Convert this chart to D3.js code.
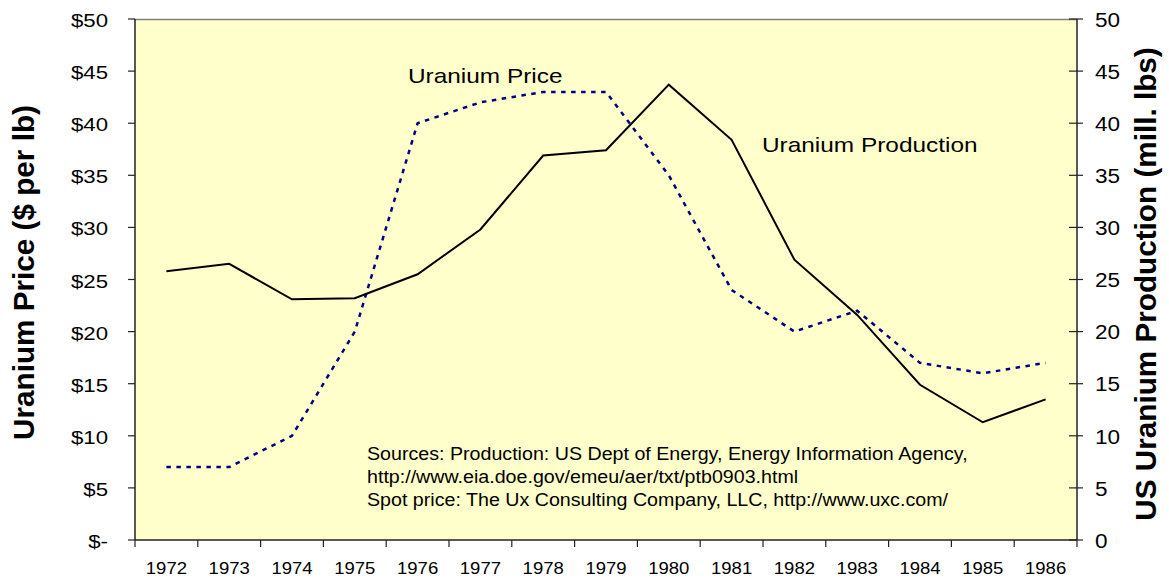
<!DOCTYPE html>
<html><head><meta charset="utf-8">
<script src="https://cdn.jsdelivr.net/npm/d3@7"></script>
<style>body{margin:0;background:#fff}svg{display:block}text{font-family:Arial,"Liberation Sans",sans-serif;fill:#000}</style>
</head><body>
<svg id="c" width="1169" height="579"></svg>
<script>
const years = ["1972","1973","1974","1975","1976","1977","1978","1979","1980","1981","1982","1983","1984","1985","1986"];
const production = [25.8,26.5,23.1,23.2,25.5,29.8,36.9,37.4,43.7,38.4,26.9,21.6,14.9,11.3,13.5];
const price = [7,7,10,20,40,42,43,43,35,24,20,22,17,16,17];
const leftTicks = [0,5,10,15,20,25,30,35,40,45,50];
const rightTicks = [0,5,10,15,20,25,30,35,40,45,50];
const sourceLines = ["Sources: Production: US Dept of Energy, Energy Information Agency,","http://www.eia.doe.gov/emeu/aer/txt/ptb0903.html","Spot price: The Ux Consulting Company, LLC, http://www.uxc.com/"];

const L=135,R=1077,T=19,B=540;
const svg=d3.select("#c");
const x=d3.scaleBand().domain(years).range([L,R]);
const yL=d3.scaleLinear().domain([0,50]).range([B,T]);
const yR=d3.scaleLinear().domain([0,50]).range([B,T]);

function htext(px,py,str,size,sx,anchor){
  return svg.append("text").attr("transform",`translate(${px},${py}) scale(${sx},1)`)
    .attr("text-anchor",anchor||"start").attr("font-size",size).text(str);
}

svg.append("rect").attr("x",L).attr("y",T).attr("width",R-L).attr("height",B-T).attr("fill","#FFFFCC");
svg.append("line").attr("x1",L).attr("x2",R).attr("y1",T+0.5).attr("y2",T+0.5).attr("stroke","#808080").attr("stroke-width",1.5);

// left axis
svg.append("line").attr("x1",L).attr("x2",L).attr("y1",T).attr("y2",B).attr("stroke","#222").attr("stroke-width",1.5);
leftTicks.forEach(v=>{
  svg.append("line").attr("x1",L-7).attr("x2",L).attr("y1",yL(v)).attr("y2",yL(v)).attr("stroke","#222").attr("stroke-width",1.2);
  htext(108,yL(v)+8,v===0?"$-":"$"+v,19,1.17,"end");
});
// right axis
svg.append("line").attr("x1",R).attr("x2",R).attr("y1",T).attr("y2",B).attr("stroke","#222").attr("stroke-width",1.5);
rightTicks.forEach(v=>{
  svg.append("line").attr("x1",R-8).attr("x2",R+6).attr("y1",yR(v)).attr("y2",yR(v)).attr("stroke","#222").attr("stroke-width",1.2);
  htext(1095,yR(v)+7.7,String(v),20.5,1.1,"start");
});
// bottom axis
svg.append("line").attr("x1",L).attr("x2",R).attr("y1",B).attr("y2",B).attr("stroke","#222").attr("stroke-width",1.5);
years.forEach((yr,i)=>{
  const bx=x(yr);
  svg.append("line").attr("x1",bx).attr("x2",bx).attr("y1",B).attr("y2",B+7).attr("stroke","#222").attr("stroke-width",1.2);
  htext(bx+x.bandwidth()/2,574,yr,17,1.09,"middle");
});
svg.append("line").attr("x1",R).attr("x2",R).attr("y1",B).attr("y2",B+7).attr("stroke","#222").attr("stroke-width",1.2);

// lines
const cx=d=>x(d)+x.bandwidth()/2;
svg.append("path").datum(years.map((d,i)=>[cx(d),yL(price[i])]))
  .attr("d",d3.line()).attr("fill","none").attr("stroke","#000080").attr("stroke-width",2.5).attr("stroke-dasharray","4.5,5.5");
svg.append("path").datum(years.map((d,i)=>[cx(d),yR(production[i])]))
  .attr("d",d3.line()).attr("fill","none").attr("stroke","#000").attr("stroke-width",2);

// labels
htext(408,83.3,"Uranium Price",20,1.22);
htext(762,152,"Uranium Production",20,1.22);
sourceLines.forEach((s,i)=>htext(367,460+i*22.8,s,17.7,1.11));

svg.append("text").attr("transform","translate(34,272.5) rotate(-90)").attr("text-anchor","middle").attr("font-size",29.7).attr("font-weight","bold").text("Uranium Price ($ per lb)");
svg.append("text").attr("transform","translate(1156,284) rotate(-90)").attr("text-anchor","middle").attr("font-size",29.7).attr("font-weight","bold").text("US Uranium Production (mill. lbs)");
</script>
</body></html>
